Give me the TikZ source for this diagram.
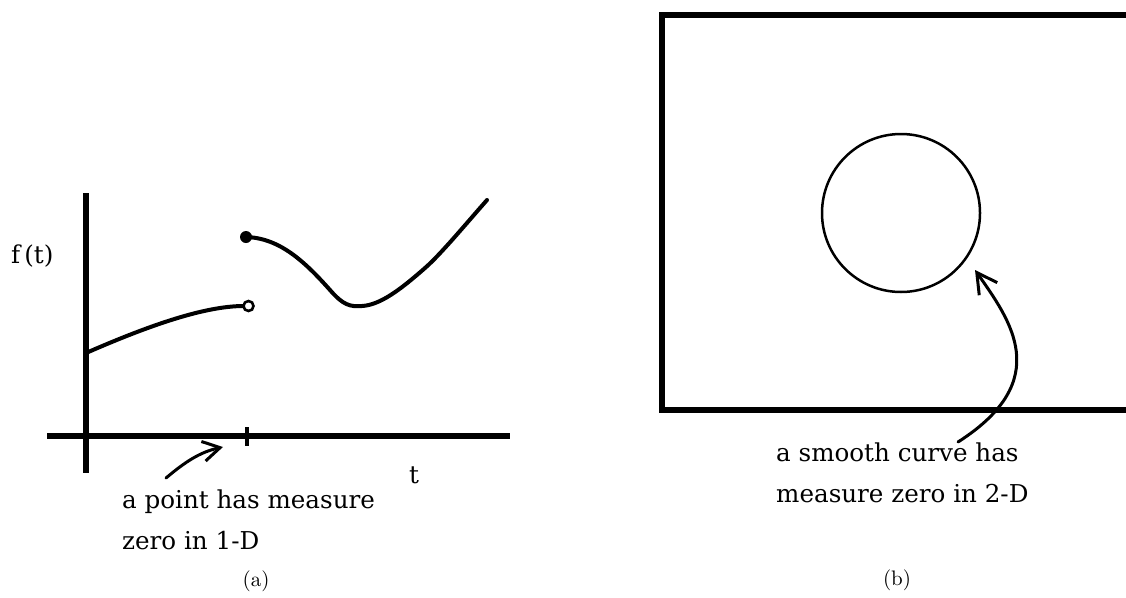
\documentclass[tikz,border=0pt]{standalone}
\usepackage{fontspec}
\newfontfamily\handfont{DejaVu Serif}
\usetikzlibrary{arrows.meta}
\tikzset{
  axisline/.style={line width=5.5pt},
  graphline/.style={line width=4pt, line cap=round},
  pointer/.style={line width=3pt, line cap=round, -{Straight Barb[length=17pt, width=20pt, line width=3pt]}},
  lbl/.style={font=\handfont\fontsize{24.6}{40.5}\selectfont, inner sep=0pt, align=left},
  captext/.style={inner sep=0pt}
}
\begin{document}
\begin{tikzpicture}[x=1pt,y=-1pt]
\useasboundingbox (0,0) rectangle (1126,597);
\fill[white] (0,0) rectangle (1126,597);
% ---- panel (a) ----
\coordinate (ytop) at (86,193);
\coordinate (ybot) at (86,473);
\coordinate (xl) at (47,436);
\coordinate (xr) at (510,436);
\draw[axisline] (ytop) -- (ybot);
\draw[axisline] (xl) -- (xr);
\coordinate (tk1) at (247,427);
\coordinate (tk2) at (247,446);
\draw[line width=4pt] (tk1) -- (tk2);
\coordinate (c1s) at (86,353);
\coordinate (c1e) at (244,306);
\draw[graphline] (c1s) .. controls (150,325) and (205,306) .. (c1e);
\node[circle, draw, fill=white, line width=2.6pt, minimum size=10pt, inner sep=0pt] (open) at (248.5,306) {};
\node[circle, fill=black, minimum size=12pt, inner sep=0pt] (closed) at (246,237) {};
\draw[graphline] (closed.center) .. controls (280,238) and (305,262) .. (330,290)
  .. controls (343,305) and (350,307) .. (362,306)
  .. controls (380,305) and (400,290) .. (425,268)
  .. controls (440,255) and (465,225) .. (487,200);
\node[lbl, anchor=base west] (ft) at (11,263) {f\,(t)};
\node[lbl, anchor=base west] (tl) at (409,483) {t};
\node[lbl, anchor=base west] (pt) at (122,549) {a point has measure\\zero in 1-D};
\coordinate (a1s) at (166,478);
\coordinate (a1e) at (223,447);
\draw[pointer] (a1s) .. controls (185,462) and (200,452) .. (a1e);
\node[captext] (capa) at (256,581) {\scalebox{2.1}{(a)}};
% ---- panel (b) ----
\begin{scope}
\clip (0,0) rectangle (1126,597);
\draw[line width=6pt] (1135,14.5) -- (662,14.5) -- (662,410) -- (1135,410);
\end{scope}
\node[circle, draw, line width=2.5pt, minimum size=158pt, inner sep=0pt] (circ) at (901,213) {};
\node[lbl, anchor=base west] (sc) at (776,502) {a smooth curve has\\measure zero in 2-D};
\coordinate (a2s) at (958,442);
\coordinate (a2e) at (975,270);
\draw[pointer, -{Straight Barb[length=20pt, width=22pt, line width=3pt]}] (a2s) .. controls (1055,380) and (1010,320) .. (a2e);
\node[captext] (capb) at (897,580) {\scalebox{2.1}{(b)}};
\end{tikzpicture}
\end{document}
